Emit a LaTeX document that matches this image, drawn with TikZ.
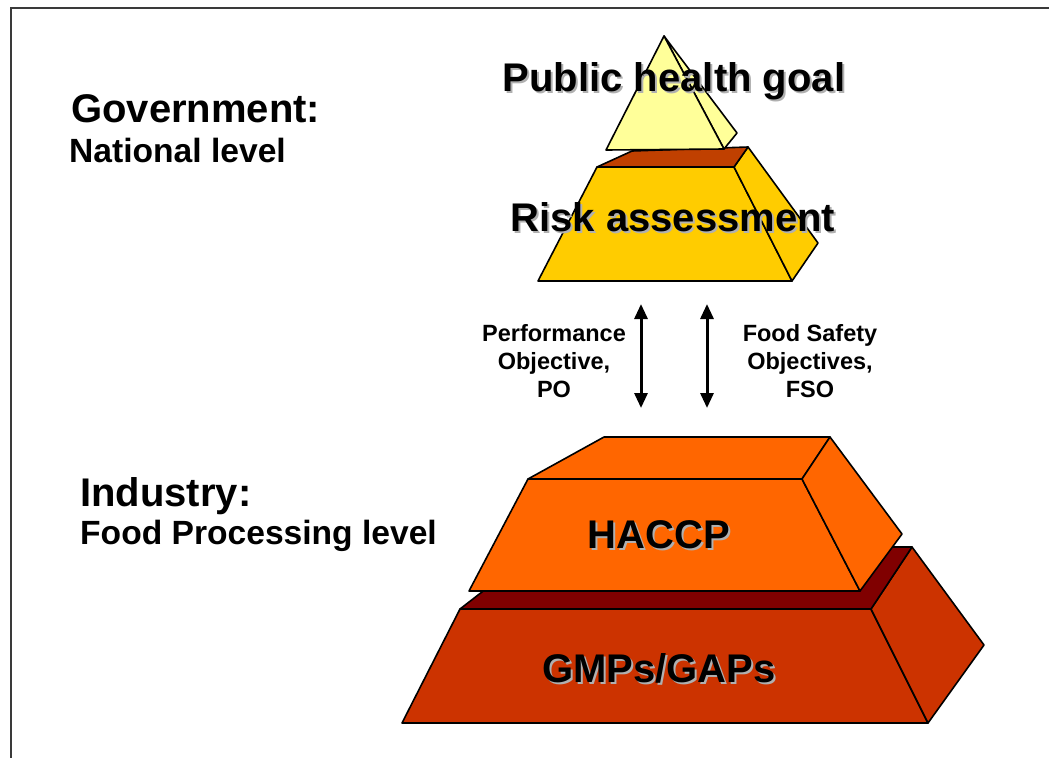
\documentclass[tikz,border=0pt]{standalone}
\usepackage{fontspec}
\setmainfont{Liberation Sans}
\usetikzlibrary{arrows.meta}

\definecolor{peakyellow}{HTML}{FFFF99}
\definecolor{gold}{HTML}{FFCC00}
\definecolor{rust}{HTML}{C04000}
\definecolor{haccporange}{HTML}{FF6600}
\definecolor{brick}{HTML}{CC3300}
\definecolor{darkmaroon}{HTML}{800000}
\definecolor{shadowgray}{HTML}{B0B0B0}
\definecolor{framegray}{HTML}{3A3A3A}

% text with a soft grey drop shadow
\newcommand\dropshadowed[1]{\leavevmode\rlap{\kern2pt\raisebox{-2pt}{\textcolor{shadowgray}{#1}}}#1}

\tikzset{
  face/.style={draw=black, line width=1.6pt, line join=round},
  biglabel/.style={font=\bfseries\fontsize{40}{48}\selectfont, anchor=base, inner sep=0pt},
  sidelabel/.style={font=\bfseries\fontsize{40}{48}\selectfont, anchor=base west, inner sep=0pt},
  sublabel/.style={font=\bfseries\fontsize{33.6}{40}\selectfont, anchor=base west, inner sep=0pt},
  objlabel/.style={font=\bfseries\fontsize{23.5}{28}\selectfont, align=center, inner sep=0pt},
  link/.style={line width=3pt, {Triangle[length=15pt,width=13pt]}-{Triangle[length=15pt,width=13pt]}},
}

\begin{document}
\begin{tikzpicture}[x=1pt,y=-1pt]
\useasboundingbox (0,0) rectangle (1049,758);

% page frame (top and left edges)
\draw[framegray, line width=2pt] (1049,8) -- (11,8) -- (11,758);

% --- risk assessment block ---
\filldraw[face, fill=gold]  (597,167) -- (734,167) -- (792,281) -- (538,281) -- cycle;
\filldraw[face, fill=gold]  (734,167) -- (748,147) -- (818,243) -- (792,281) -- cycle;
\filldraw[face, fill=rust]  (597,167) -- (632,151) -- (748,147) -- (734,167) -- cycle;

% --- public health goal pyramid ---
\filldraw[face, fill=peakyellow] (664,36) -- (737,133) -- (724,149) -- cycle;
\filldraw[face, fill=peakyellow] (664,36) -- (724,149) -- (606,150) -- cycle;

\node[biglabel] (phg) at (674,91) {\dropshadowed{Public health goal}};
\node[biglabel] (risk) at (673,231) {\dropshadowed{Risk assessment}};

% --- GMPs/GAPs base block ---
\filldraw[face, fill=brick]      (460,609) -- (871,609) -- (928,723) -- (402,723) -- cycle;
\filldraw[face, fill=brick]      (871,609) -- (912,547) -- (984,645) -- (928,723) -- cycle;
\filldraw[face, fill=darkmaroon] (460,609) -- (540,547) -- (912,547) -- (871,609) -- cycle;

% --- HACCP block ---
\filldraw[face, fill=haccporange] (528,479) -- (604,437) -- (830,437) -- (802,479) -- cycle;
\filldraw[face, fill=haccporange] (528,479) -- (802,479) -- (860,591) -- (469,591) -- cycle;
\filldraw[face, fill=haccporange] (802,479) -- (830,437) -- (902,534) -- (860,591) -- cycle;

\node[biglabel] (haccp) at (659,548) {\dropshadowed{HACCP}};
\node[biglabel] (gmp) at (659,682) {\dropshadowed{GMPs/GAPs}};

% --- level captions ---
\node[sidelabel] (gov) at (71,122) {Government:};
\node[sublabel]  (nat) at (69,162) {National level};
\node[sidelabel] (ind) at (80,506) {Industry:};
\node[sublabel]  (fpl) at (80,544) {Food Processing level};

% --- objectives linking the two levels ---
\coordinate (poTop) at (641,304);
\coordinate (poBot) at (641,408);
\coordinate (fsoTop) at (707,304);
\coordinate (fsoBot) at (707,408);
\draw[link] (poTop) -- (poBot);
\draw[link] (fsoTop) -- (fsoBot);

\node[objlabel] (po)  at (554,361) {Performance\\Objective,\\PO};
\node[objlabel] (fso) at (810,361) {Food Safety\\Objectives,\\FSO};
\end{tikzpicture}
\end{document}
